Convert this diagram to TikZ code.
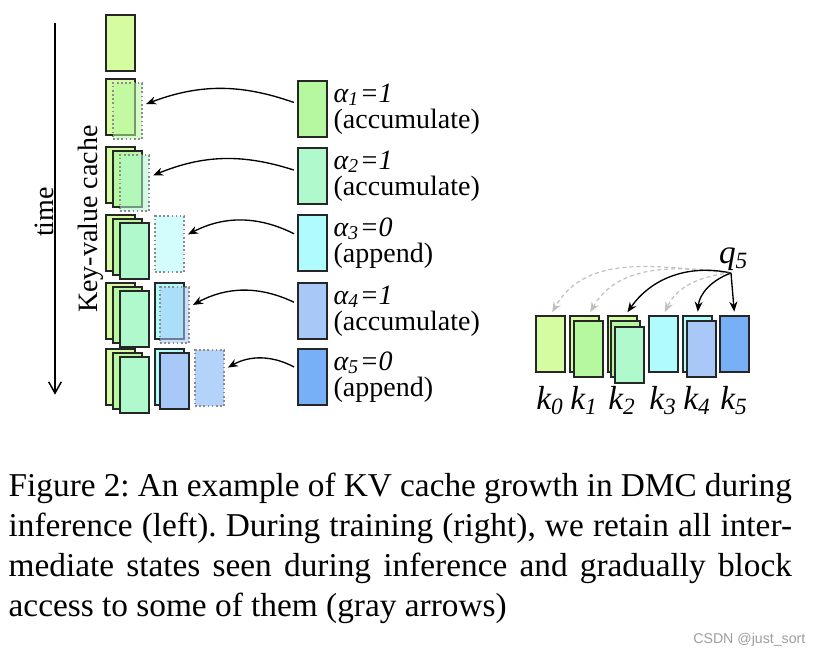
\documentclass[tikz,border=0pt]{standalone}
\usepackage{fontspec}
\setmainfont{Liberation Serif}
\newfontfamily\wmfont{Liberation Sans}
\usepackage{tikz}
\usetikzlibrary{positioning, calc}
\usetikzlibrary{arrows.meta}

\definecolor{kv0}{HTML}{D5FCA1}
\definecolor{kv1}{HTML}{B6F8A0}
\definecolor{kv2}{HTML}{B0F9CC}
\definecolor{kv3}{HTML}{B0FCFC}
\definecolor{kv4}{HTML}{A8C8F8}
\definecolor{kv5}{HTML}{78B0F8}

\begin{document}
\begin{tikzpicture}[x=0.3pt,y=-0.3pt,shorten >=1pt,->,>={Stealth[length=3pt,width=2.4pt]},draw=black!100]
	\def \bw{8.7pt}
	\def \bh{16.8pt}
	\tikzstyle{kv}=[rectangle,draw=black!85,line width=0.6pt,inner sep=0pt,minimum width=\bw,minimum height=\bh,anchor=north west]
	\tikzstyle{ghost}=[kv,draw=black!45,dash pattern=on 0.5pt off 0.75pt,fill opacity=0.55]
	\tikzstyle{lbl}=[font=\fontsize{8.4}{7.9}\selectfont,align=left,inner sep=1.5pt]
	\tikzstyle{klbl}=[font=\fontsize{10}{11}\selectfont\itshape,inner sep=0pt,anchor=base]
	\tikzstyle{flow}=[->,line width=0.4pt,shorten >=1pt,shorten <=1pt]
	\tikzstyle{blocked}=[->,draw=black!25,line width=0.35pt,dash pattern=on 1.2pt off 0.9pt]
	\tikzstyle{attend}=[->,line width=0.4pt]
	\path[use as bounding box,fill=white,-] (0,0) rectangle (816,656);

	% time axis
	\coordinate (t0) at (55,23);
	\coordinate (t1) at (55,398);
	\draw[-{Straight Barb[length=3.4pt,width=3.8pt]},line width=0.45pt] (t0) -- (t1);
	\node[lbl,rotate=90] (time) at (44,212) {time};
	\node[lbl,rotate=90] (cache-label) at (91,219) {Key-value cache};

	% cache, row 0
	\node[kv,fill=kv0] (r0a) at (105,14) {};
	% cache, row 1
	\node[kv,fill=kv0] (r1a) at (105,78) {};
	\node[ghost,fill=kv1] (r1g) at (112,82) {};
	% cache, row 2
	\node[kv,fill=kv0] (r2a) at (105,146) {};
	\node[kv,fill=kv1] (r2b) at (112,150) {};
	\node[ghost,fill=kv2] (r2g) at (119,154) {};
	% cache, row 3
	\node[kv,fill=kv0] (r3a) at (105,214) {};
	\node[kv,fill=kv1] (r3b) at (112,218) {};
	\node[kv,fill=kv2] (r3c) at (119,222) {};
	\node[ghost,fill=kv3] (r3g) at (154,215) {};
	% cache, row 4
	\node[kv,fill=kv0] (r4a) at (105,282) {};
	\node[kv,fill=kv1] (r4b) at (112,286) {};
	\node[kv,fill=kv2] (r4c) at (119,290) {};
	\node[kv,fill=kv3] (r4d) at (154,282) {};
	\node[ghost,fill=kv4] (r4g) at (159,286) {};
	% cache, row 5
	\node[kv,fill=kv0] (r5a) at (105,348) {};
	\node[kv,fill=kv1] (r5b) at (112,352) {};
	\node[kv,fill=kv2] (r5c) at (119,356) {};
	\node[kv,fill=kv3] (r5d) at (154,348) {};
	\node[kv,fill=kv4] (r5e) at (159,352) {};
	\node[ghost,fill=kv5] (r5g) at (194,349) {};

	% incoming states
	\node[kv,fill=kv1] (a1) at (297,80) {};
	\node[kv,fill=kv2] (a2) at (297,147) {};
	\node[kv,fill=kv3] (a3) at (297,214) {};
	\node[kv,fill=kv4] (a4) at (297,282) {};
	\node[kv,fill=kv5] (a5) at (297,348) {};
	\node[lbl,right=0pt of a1] (l1) {{\itshape α\textsubscript{1}=1}\\(accumulate)};
	\node[lbl,right=0pt of a2] (l2) {{\itshape α\textsubscript{2}=1}\\(accumulate)};
	\node[lbl,right=0pt of a3] (l3) {{\itshape α\textsubscript{3}=0}\\(append)};
	\node[lbl,right=0pt of a4] (l4) {{\itshape α\textsubscript{4}=1}\\(accumulate)};
	\node[lbl,right=0pt of a5] (l5) {{\itshape α\textsubscript{5}=0}\\(append)};

	\draw[flow] (a1) to[bend right=20] (r1g);
	\draw[flow] (a2) to[bend right=20] (r2g);
	\draw[flow] (a3) to[bend right=27] (r3g);
	\draw[flow] (a4) to[bend right=27] (r4g);
	\draw[flow] (a5) to[bend right=29] (r5g);

	% training view
	\node[kv,fill=kv0] (k0) at (535,315) {};
	\node[kv,fill=kv0] (k1a) at (569,315) {};
	\node[kv,fill=kv1] (k1b) at (573,320) {};
	\node[kv,fill=kv0] (k2a) at (607,315) {};
	\node[kv,fill=kv1] (k2b) at (610,320) {};
	\node[kv,fill=kv2] (k2c) at (614,326) {};
	\node[kv,fill=kv3] (k3) at (648,315) {};
	\node[kv,fill=kv3] (k4a) at (682,315) {};
	\node[kv,fill=kv4] (k4b) at (686,320) {};
	\node[kv,fill=kv5] (k5) at (719,315) {};

	\node[klbl] (lk0) at ([yshift=-10.8pt]k0.south) {k\textsubscript{0}};
	\node[klbl] (lk1) at ([yshift=-10.8pt]k1a.south) {k\textsubscript{1}};
	\node[klbl] (lk2) at ([yshift=-10.8pt]k2a.south) {k\textsubscript{2}};
	\node[klbl] (lk3) at ([yshift=-10.8pt]k3.south) {k\textsubscript{3}};
	\node[klbl] (lk4) at ([yshift=-10.8pt]k4a.south) {k\textsubscript{4}};
	\node[klbl] (lk5) at ([yshift=-10.8pt]k5.south) {k\textsubscript{5}};

	\node[klbl,anchor=center] (q5) at (734,259) {q\textsubscript{5}};
	\coordinate (qs) at (731,273);

	\draw[blocked] (qs) to[out=175,in=60] (k0.north);
	\draw[blocked] (qs) to[out=172,in=60] (k1b.north |- k1a.north);
	\draw[attend] (qs) to[out=168,in=55] (k2b.north |- k2a.north);
	\draw[blocked] (qs) to[out=185,in=65] (k3.north);
	\draw[attend] (qs) to[out=200,in=85] (k4a.north);
	\draw[attend] (qs) -- (k5.north);

	% caption
	\node[anchor=north west,inner sep=0pt,text width=235pt,align=justify,font=\fontsize{10}{12}\selectfont\frenchspacing] (caption) at (8,472)
		{Figure 2: An example of KV cache growth in DMC during\linebreak
		inference (left). During training (right), we retain all inter-\linebreak
		mediate states seen during inference and gradually block\linebreak
		access to some of them (gray arrows)};
	\node[anchor=base east,inner sep=0pt,font=\wmfont\fontsize{4.25}{5}\selectfont,text=black!38] (wm) at (806,643) {CSDN @just\_sort};
\end{tikzpicture}
\end{document}
